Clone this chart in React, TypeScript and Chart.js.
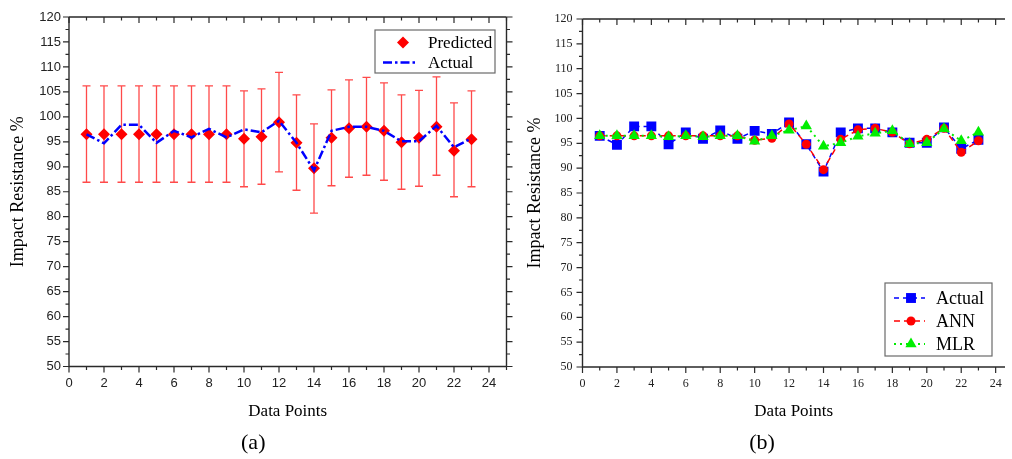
import React, { useEffect, useRef } from "react";
import { Chart, registerables } from "chart.js";
Chart.register(...registerables);

const SERIF = '"Liberation Serif", "Times New Roman", serif';
const SANS = '"Liberation Sans", Arial, sans-serif';

// ---- data ----
const dataPoints = [1, 2, 3, 4, 5, 6, 7, 8, 9, 10, 11, 12, 13, 14, 15, 16, 17, 18, 19, 20, 21, 22, 23];
const actual = [96.5, 94.7, 98.4, 98.4, 94.8, 97.2, 95.9, 97.6, 95.9, 97.5, 96.9, 99.2, 94.8, 89.3, 97.2, 98.0, 98.0, 97.2, 95.1, 95.1, 98.2, 93.9, 95.7];
const predicted = [96.5, 96.5, 96.5, 96.5, 96.5, 96.5, 96.5, 96.5, 96.5, 95.6, 96.0, 98.9, 94.8, 89.7, 95.8, 97.7, 98.0, 97.2, 94.9, 95.8, 98.0, 93.2, 95.5];
const mlr = [96.5, 96.5, 96.5, 96.5, 96.3, 96.5, 96.3, 96.5, 96.5, 95.4, 96.5, 97.6, 98.5, 94.4, 95.1, 96.4, 97.0, 97.5, 94.9, 95.1, 97.9, 95.5, 97.2];
const errorHigh = [106.2, 106.2, 106.2, 106.2, 106.2, 106.2, 106.2, 106.2, 106.2, 105.2, 105.6, 108.9, 104.4, 98.6, 105.4, 107.4, 107.9, 106.8, 104.4, 105.3, 108.0, 102.8, 105.2];
const errorLow = [86.9, 86.9, 86.9, 86.9, 86.9, 86.9, 86.9, 86.9, 86.9, 86.0, 86.5, 89.0, 85.3, 80.7, 86.2, 87.9, 88.3, 87.3, 85.5, 86.1, 88.3, 84.0, 86.0];
const xTicks = [0, 2, 4, 6, 8, 10, 12, 14, 16, 18, 20, 22, 24];
const yTicks = [50, 55, 60, 65, 70, 75, 80, 85, 90, 95, 100, 105, 110, 115, 120];

const pts = (vals: number[]) => dataPoints.map((x, i) => ({ x, y: vals[i] }));

function marker(ctx: CanvasRenderingContext2D, style: string, x: number, y: number, r: number, color: string) {
  ctx.save();
  ctx.setLineDash([]);
  ctx.fillStyle = color;
  ctx.beginPath();
  if (style === "rect") {
    const s = Math.SQRT1_2 * r;
    ctx.rect(x - s, y - s, 2 * s, 2 * s);
  } else if (style === "circle") {
    ctx.arc(x, y, r, 0, Math.PI * 2);
  } else if (style === "triangle") {
    ctx.moveTo(x, y - r);
    ctx.lineTo(x + r * Math.sin(Math.PI / 3) , y + r * 0.5);
    ctx.lineTo(x - r * Math.sin(Math.PI / 3), y + r * 0.5);
    ctx.closePath();
  } else if (style === "diamond") {
    ctx.moveTo(x, y - r);
    ctx.lineTo(x + r, y);
    ctx.lineTo(x, y + r);
    ctx.lineTo(x - r, y);
    ctx.closePath();
  }
  ctx.fill();
  ctx.restore();
}

type LegendItem = { text: string; color: string; dash?: number[]; lineWidth?: number; marker?: string; r?: number; line: boolean };
type FrameConf = {
  rightBorder: boolean;
  errorBars?: boolean;
  legend: { dx: number; dy: number; anchor: "top" | "bottom"; w: number; h: number; rows: number[]; lineX: [number, number]; markX: number; textX: number; font: string; items: LegendItem[] };
};

function makeFrame(conf: FrameConf) {
  return {
    id: "frame",
    beforeDatasetsDraw(chart: any) {
      if (!conf.errorBars) return;
      const { ctx, scales } = chart;
      const x = scales.x, y = scales.y;
      ctx.save();
      ctx.strokeStyle = "#ff4a4a";
      ctx.lineWidth = 1.3;
      dataPoints.forEach((v, i) => {
        const px = x.getPixelForValue(v);
        const hi = y.getPixelForValue(errorHigh[i]);
        const lo = y.getPixelForValue(errorLow[i]);
        ctx.beginPath();
        ctx.moveTo(px, hi); ctx.lineTo(px, lo);
        ctx.moveTo(px - 4, hi); ctx.lineTo(px + 4, hi);
        ctx.moveTo(px - 4, lo); ctx.lineTo(px + 4, lo);
        ctx.stroke();
      });
      ctx.restore();
    },
    afterDatasetsDraw(chart: any) {
      const { ctx, chartArea: a, scales } = chart;
      const x = scales.x, y = scales.y;
      ctx.save();
      ctx.strokeStyle = "#2a2a2a";
      ctx.lineWidth = 1.4;
      ctx.beginPath();
      ctx.moveTo(a.left, a.top); ctx.lineTo(a.left, a.bottom); ctx.lineTo(a.right, a.bottom);
      ctx.moveTo(a.left, a.top); ctx.lineTo(a.right, a.top);
      if (conf.rightBorder) { ctx.moveTo(a.right, a.top); ctx.lineTo(a.right, a.bottom); }
      ctx.stroke();
      ctx.lineWidth = 1.2;
      ctx.beginPath();
      const xs: [number, boolean][] = [];
      xTicks.forEach((v, i) => {
        xs.push([v, true]);
        if (i < xTicks.length - 1) xs.push([(v + xTicks[i + 1]) / 2, false]);
      });
      xs.push([xTicks[xTicks.length - 1] + 1, false]);
      xs.forEach(([v, major]) => {
        const px = x.getPixelForValue(v);
        if (px > a.right + 0.5) return;
        const L = major ? 6 : 3.5;
        ctx.moveTo(px, a.bottom); ctx.lineTo(px, a.bottom + L);
        ctx.moveTo(px, a.top); ctx.lineTo(px, a.top + L);
      });
      const ys: [number, boolean][] = [];
      yTicks.forEach((v, i) => {
        ys.push([v, true]);
        if (i < yTicks.length - 1) ys.push([(v + yTicks[i + 1]) / 2, false]);
      });
      ys.forEach(([v, major]) => {
        const py = y.getPixelForValue(v);
        const L = major ? 6 : 3.5;
        ctx.moveTo(a.left, py); ctx.lineTo(a.left - L, py);
        if (conf.rightBorder) { ctx.moveTo(a.right, py); ctx.lineTo(a.right + L, py); }
      });
      ctx.stroke();

      // legend
      const lg = conf.legend;
      const bx = a.right - lg.dx - lg.w;
      const by = lg.anchor === "top" ? a.top + lg.dy : a.bottom - lg.dy - lg.h;
      ctx.fillStyle = "#fff";
      ctx.fillRect(bx, by, lg.w, lg.h);
      ctx.strokeStyle = "#6a6a6a";
      ctx.lineWidth = 1.2;
      ctx.strokeRect(bx, by, lg.w, lg.h);
      lg.items.forEach((it, i) => {
        const ry = by + lg.rows[i];
        if (it.line) {
          ctx.save();
          ctx.strokeStyle = it.color;
          ctx.lineWidth = it.lineWidth || 1.5;
          ctx.setLineDash(it.dash || []);
          ctx.beginPath();
          ctx.moveTo(bx + lg.lineX[0], ry);
          ctx.lineTo(bx + lg.lineX[1], ry);
          ctx.stroke();
          ctx.restore();
        }
        if (it.marker) marker(ctx, it.marker, bx + lg.markX, ry, it.r || 5, it.color);
        ctx.fillStyle = "#000";
        ctx.font = lg.font;
        ctx.textAlign = "left";
        ctx.textBaseline = "middle";
        ctx.fillText(it.text, bx + lg.textX, ry + 1);
      });
      ctx.restore();
    },
  };
}

function baseScales(opts: { xMax: number; xHeight: number; yWidth: number; tickFont: string; tickSize: number; xPad: number; yPad: number; yTitlePad: number }) {
  return {
    x: {
      type: "linear" as const,
      min: 0,
      max: opts.xMax,
      afterBuildTicks: (s: any) => { s.ticks = xTicks.map((v) => ({ value: v })); },
      afterFit: (s: any) => { s.height = opts.xHeight; },
      grid: { display: false, drawTicks: false, tickLength: 0 },
      border: { display: false },
      ticks: { font: { family: opts.tickFont, size: opts.tickSize }, color: "#222", padding: opts.xPad, maxRotation: 0, autoSkip: false },
      title: { display: true, text: "Data Points", font: { family: SERIF, size: 17 }, color: "#000", padding: { top: 0, bottom: 7.6 } },
    },
    y: {
      type: "linear" as const,
      min: 50,
      max: 120,
      afterBuildTicks: (s: any) => { s.ticks = yTicks.map((v) => ({ value: v })); },
      afterFit: (s: any) => { s.width = opts.yWidth; },
      grid: { display: false, drawTicks: false, tickLength: 0 },
      border: { display: false },
      ticks: { font: { family: opts.tickFont, size: opts.tickSize }, color: "#222", padding: opts.yPad, autoSkip: false },
      title: { display: true, text: "Impact Resistance %", font: { family: SERIF, size: 18 }, color: "#000", padding: { top: opts.yTitlePad, bottom: 0 } },
    },
  };
}

function ChartA() {
  const ref = useRef<HTMLCanvasElement>(null);
  useEffect(() => {
    const chart = new Chart(ref.current!, {
      type: "line",
      data: {
        datasets: [
          { label: "Actual", data: pts(actual), borderColor: "#0000ff", borderWidth: 2.5, borderDash: [9, 3, 2.5, 3], pointRadius: 0, fill: false, tension: 0, order: 1 },
          { label: "Predicted", data: pts(predicted), showLine: false, pointStyle: "rectRot", pointRadius: 6, backgroundColor: "#ff0000", borderColor: "#ff0000", pointBorderWidth: 0, order: 2 },
        ],
      },
      options: {
        responsive: false,
        animation: false,
        layout: { padding: { left: 0, right: 13.5, top: 17, bottom: 0 } },
        plugins: {
          legend: { display: false },
          tooltip: { enabled: false },
          title: { display: true, position: "bottom", text: "(a)", font: { family: SERIF, size: 22, weight: "normal" }, color: "#000", padding: { top: 0, bottom: 2.8 } },
        },
        scales: baseScales({ xMax: 25, xHeight: 63.3, yWidth: 69, tickFont: SANS, tickSize: 13, xPad: 9.5, yPad: 8, yTitlePad: 7.2 }),
      },
      plugins: [
        makeFrame({
          rightBorder: true,
          errorBars: true,
          legend: {
            dx: 11.5, dy: 13, anchor: "top", w: 120, h: 43, rows: [12.5, 32.5], lineX: [8, 43], markX: 28, textX: 53,
            font: `17px ${SERIF}`,
            items: [
              { text: "Predicted", color: "#ff0000", marker: "diamond", r: 6, line: false },
              { text: "Actual", color: "#0000ff", dash: [9, 3, 2.5, 3], lineWidth: 2.5, line: true },
            ],
          },
        }),
      ],
    } as any);
    return () => chart.destroy();
  }, []);
  return <canvas ref={ref} width={520} height={459} style={{ position: "absolute", left: 0, top: 0, width: 520, height: 459 }} />;
}

function ChartB() {
  const ref = useRef<HTMLCanvasElement>(null);
  useEffect(() => {
    const chart = new Chart(ref.current!, {
      type: "line",
      data: {
        datasets: [
          { label: "Actual", data: pts(actual), borderColor: "#0000ff", backgroundColor: "#0000ff", borderWidth: 1.5, borderDash: [5, 4], pointStyle: "rect", pointRadius: 7, pointBorderWidth: 0, tension: 0, order: 3 },
          { label: "ANN", data: pts(predicted), borderColor: "#ff0000", backgroundColor: "#ff0000", borderWidth: 1.5, borderDash: [6, 4], pointStyle: "circle", pointRadius: 4.5, pointBorderWidth: 0, tension: 0, order: 2 },
          { label: "MLR", data: pts(mlr), borderColor: "#00ee00", backgroundColor: "#00ee00", borderWidth: 2, borderDash: [2, 4], pointStyle: "triangle", pointRadius: 6.5, pointBorderWidth: 0, tension: 0, order: 1 },
        ],
      },
      options: {
        responsive: false,
        animation: false,
        layout: { padding: { left: 0, right: 0, top: 19, bottom: 0 } },
        plugins: {
          legend: { display: false },
          tooltip: { enabled: false },
          title: { display: true, position: "bottom", text: "(b)", font: { family: SERIF, size: 22, weight: "normal" }, color: "#000", padding: { top: 0, bottom: 2.8 } },
        },
        scales: baseScales({ xMax: 24.543, xHeight: 62.8, yWidth: 70.5, tickFont: SERIF, tickSize: 12, xPad: 9.8, yPad: 10, yTitlePad: 12.2 }),
      },
      plugins: [
        makeFrame({
          rightBorder: false,
          legend: {
            dx: 13, dy: 11, anchor: "bottom", w: 107, h: 73, rows: [15, 38, 61], lineX: [9, 40], markX: 26, textX: 51,
            font: `18px ${SERIF}`,
            items: [
              { text: "Actual", color: "#0000ff", dash: [5, 4], lineWidth: 1.5, marker: "rect", r: 7, line: true },
              { text: "ANN", color: "#ff0000", dash: [6, 4], lineWidth: 1.5, marker: "circle", r: 4.5, line: true },
              { text: "MLR", color: "#00ee00", dash: [2, 4], lineWidth: 2, marker: "triangle", r: 6.5, line: true },
            ],
          },
        }),
      ],
    } as any);
    return () => chart.destroy();
  }, []);
  return <canvas ref={ref} width={500} height={459} style={{ position: "absolute", left: 512, top: 0, width: 500, height: 459 }} />;
}

export default function App() {
  return (
    <div style={{ position: "absolute", left: 0, top: 0, width: 1012, height: 459, background: "#fff", overflow: "hidden" }}>
      <ChartA />
      <ChartB />
    </div>
  );
}
